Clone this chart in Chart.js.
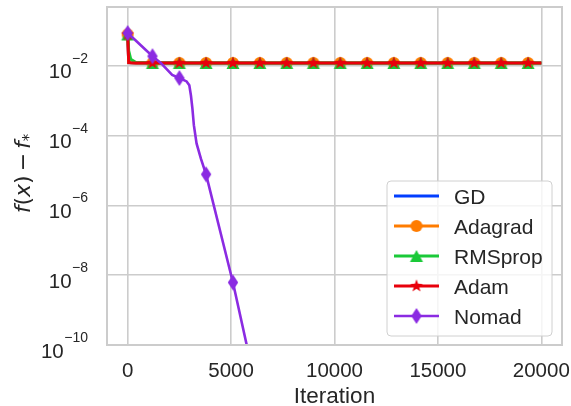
<!DOCTYPE html>
<html>
<head>
<meta charset="utf-8">
<script src="https://cdn.jsdelivr.net/npm/chart.js@4.4.0/dist/chart.umd.min.js"></script>
<style>
  html, body { margin: 0; padding: 0; background: #fff; }
</style>
</head>
<body>
<canvas id="grafico" width="571" height="406"></canvas>
<script>
// dados
const iteracoes = [0, 50, 150, 400, 1200, 2500, 3790, 5090, 6390, 7690, 8980, 10280, 11580, 12870, 14170, 15470, 16760, 18060, 19360, 20000];
const marcas = [0, 1200, 2500, 3790, 5090, 6390, 7690, 8980, 10280, 11580, 12870, 14170, 15470, 16760, 18060, 19360];

const gd      = [0.08, 0.0124, 0.0123, 0.0122, 0.0122, 0.0122, 0.0122, 0.0122, 0.0122, 0.0122, 0.0122, 0.0122, 0.0122, 0.0122, 0.0122, 0.0122, 0.0122, 0.0122, 0.0122, 0.0122];
const adagrad = [0.08, 0.0124, 0.0123, 0.0122, 0.0122, 0.0122, 0.0122, 0.0122, 0.0122, 0.0122, 0.0122, 0.0122, 0.0122, 0.0122, 0.0122, 0.0122, 0.0122, 0.0122, 0.0122, 0.0122];
const rmsprop = [0.08, 0.027, 0.0155, 0.0125, 0.0122, 0.0122, 0.0122, 0.0122, 0.0122, 0.0122, 0.0122, 0.0122, 0.0122, 0.0122, 0.0122, 0.0122, 0.0122, 0.0122, 0.0122, 0.0122];
const adam    = [0.08, 0.0124, 0.0123, 0.0122, 0.0122, 0.0122, 0.0122, 0.0122, 0.0122, 0.0122, 0.0122, 0.0122, 0.0122, 0.0122, 0.0122, 0.0122, 0.0122, 0.0122, 0.0122, 0.0122];

const nomadIter = [0, 1200, 1600, 2150, 2500, 2850, 2980, 3060, 3130, 3200, 3330, 3540, 3790, 5090, 6000];
const nomad     = [0.088, 0.019, 0.0122, 0.0055, 0.0045, 0.0036, 0.0028, 0.0014, 0.0006, 0.0002, 0.00006, 0.000022, 0.0000078, 0.0000000062, 2.2e-11];

const xTicks = [0, 5000, 10000, 15000, 20000];
const yTicks = [1e-10, 1e-8, 1e-6, 1e-4, 1e-2];

const fonte = '"Liberation Sans", Arial, sans-serif';
const corTexto = '#262626';
const corGrade = '#cccccc';

Chart.defaults.font.family = fonte;
Chart.defaults.color = corTexto;

// marcadores desenhados num canvas (estrela e losango fino nao existem no chart.js)
function marcador(forma, cor) {
  const cv = document.createElement('canvas');
  const s = 20;
  cv.width = s; cv.height = s;
  const g = cv.getContext('2d');
  g.fillStyle = cor;
  g.translate(s / 2, s / 2);
  g.beginPath();
  if (forma === 'circulo') {
    g.arc(0, 0, 6, 0, Math.PI * 2);
  } else if (forma === 'triangulo') {
    g.moveTo(0, -6); g.lineTo(6.5, 6); g.lineTo(-6.5, 6);
  } else if (forma === 'estrela') {
    for (let i = 0; i < 10; i++) {
      const r = i % 2 ? 2.7 : 6.8;
      const a = -Math.PI / 2 + i * Math.PI / 5;
      g.lineTo(r * Math.cos(a), r * Math.sin(a));
    }
  } else if (forma === 'losango') {
    g.moveTo(0, -8); g.lineTo(5.2, 0); g.lineTo(0, 8); g.lineTo(-5.2, 0);
  }
  g.closePath();
  g.fill();
  return cv;
}

function serie(rotulo, cor, xs, ys, forma, largura, ordem) {
  const img = forma ? marcador(forma, cor) : null;
  return {
    label: rotulo,
    data: xs.map((x, i) => ({ x: x, y: ys[i] })),
    borderColor: cor,
    backgroundColor: cor,
    borderWidth: largura,
    pointStyle: img || 'circle',
    pointRadius: c => (img && c.raw && marcas.includes(c.raw.x)) ? 6 : 0,
    pointBorderWidth: 0,
    tension: 0,
    clip: 0,
    order: ordem,
    _img: img
  };
}

const datasets = [
  serie('GD', '#023eff', iteracoes, gd, null, 3, 4),
  serie('Adagrad', '#ff7c00', iteracoes, adagrad, 'circulo', 3, 3),
  serie('RMSprop', '#1ac938', iteracoes, rmsprop, 'triangulo', 3, 2),
  serie('Adam', '#e8000b', iteracoes, adam, 'estrela', 3, 1),
  serie('Nomad', '#8b2be2', nomadIter, nomad, 'losango', 2.6, 0)
];

// moldura em volta da area do grafico
const moldura = {
  id: 'moldura',
  afterDatasetsDraw(chart) {
    const a = chart.chartArea, c = chart.ctx;
    c.save();
    c.strokeStyle = corGrade;
    c.lineWidth = 2;
    c.strokeRect(a.left, a.top, a.right - a.left, a.bottom - a.top);
    c.restore();
  }
};

// rotulos 10^-n do eixo y e titulo f(x) - f*
const eixoY = {
  id: 'eixoY',
  afterDraw(chart) {
    const y = chart.scales.y, a = chart.chartArea, c = chart.ctx;
    c.save();
    c.fillStyle = corTexto;
    c.textBaseline = 'alphabetic';
    yTicks.forEach(v => {
      const py = y.getPixelForValue(v);
      const expo = '\u2212' + Math.abs(Math.round(Math.log10(v)));
      const fim = a.left - 19;
      c.font = '14px ' + fonte;
      const w = c.measureText(expo).width;
      c.textAlign = 'left';
      c.fillText(expo, fim - w, py - 3);
      c.font = '20.5px ' + fonte;
      c.textAlign = 'right';
      c.fillText('10', fim - w - 0.5, py + 12.5);
    });

    const partes = [
      { t: 'f', f: 'italic 22px "DejaVu Sans"', d: 0 },
      { t: '(', f: '22px "DejaVu Sans"', d: 0 },
      { t: 'x', f: 'italic 22px "DejaVu Sans"', d: 0 },
      { t: ')', f: '22px "DejaVu Sans"', d: 0, e: 4 },
      { t: '\u2212', f: '22px "DejaVu Sans"', d: 0, e: 4 },
      { t: 'f', f: 'italic 22px "DejaVu Sans"', d: 0 },
      { t: '*', f: '15px "DejaVu Sans"', d: 4 }
    ];
    let total = 0;
    partes.forEach(p => { c.font = p.f; p.w = c.measureText(p.t).width + (p.e || 0); total += p.w; });
    c.translate(30, (a.top + a.bottom) / 2 - 2.5);
    c.rotate(-Math.PI / 2);
    c.textAlign = 'left';
    let px = -total / 2;
    partes.forEach(p => { c.font = p.f; c.fillText(p.t, px, p.d); px += p.w; });
    c.restore();
  }
};

// legenda dentro da area, canto inferior direito
const legenda = {
  id: 'legenda',
  afterDraw(chart) {
    const a = chart.chartArea, c = chart.ctx;
    const bx = a.right - 175, by = a.bottom - 164, bw = 165, bh = 155;
    c.save();
    c.beginPath();
    c.roundRect(bx, by, bw, bh, 4);
    c.fillStyle = 'rgba(255,255,255,0.8)';
    c.fill();
    c.strokeStyle = '#d0d0d0';
    c.lineWidth = 1;
    c.stroke();
    chart.data.datasets.forEach((ds, i) => {
      const ly = by + 15 + i * 30;
      c.strokeStyle = ds.borderColor;
      c.lineWidth = ds.borderWidth;
      c.beginPath();
      c.moveTo(bx + 7, ly);
      c.lineTo(bx + 52, ly);
      c.stroke();
      if (ds._img) c.drawImage(ds._img, bx + 29.5 - ds._img.width / 2, ly - ds._img.height / 2);
      c.fillStyle = corTexto;
      c.font = '21px ' + fonte;
      c.textAlign = 'left';
      c.textBaseline = 'alphabetic';
      c.fillText(ds.label, bx + 67, ly + 7.5);
    });
    c.restore();
  }
};

new Chart(document.getElementById('grafico'), {
  type: 'line',
  data: { datasets: datasets },
  options: {
    responsive: false,
    animation: false,
    events: [],
    layout: { padding: { top: 7, right: 9, left: 0, bottom: 0 } },
    plugins: { legend: { display: false }, tooltip: { enabled: false } },
    scales: {
      x: {
        type: 'linear',
        min: -1000,
        max: 21000,
        afterBuildTicks: s => { s.ticks = xTicks.map(v => ({ value: v })); },
        afterFit: s => { s.height = 61; s.paddingLeft = 0; s.paddingRight = 0; },
        ticks: { padding: 14, font: { size: 20.5 }, color: corTexto, callback: v => String(v), maxRotation: 0 },
        grid: { color: corGrade, lineWidth: 1.6, drawTicks: false },
        border: { display: false },
        title: { display: true, text: 'Iteration', font: { size: 22.5 }, color: corTexto, padding: { top: 0, bottom: -4 } }
      },
      y: {
        type: 'logarithmic',
        min: 1e-10,
        max: 0.49,
        afterBuildTicks: s => { s.ticks = yTicks.map(v => ({ value: v })); },
        afterFit: s => { s.width = 107; s.paddingTop = 0; s.paddingBottom = 0; },
        ticks: { display: false },
        grid: { color: corGrade, lineWidth: 1.6, drawTicks: false },
        border: { display: false }
      }
    }
  },
  plugins: [moldura, eixoY, legenda]
});
</script>
</body>
</html>
